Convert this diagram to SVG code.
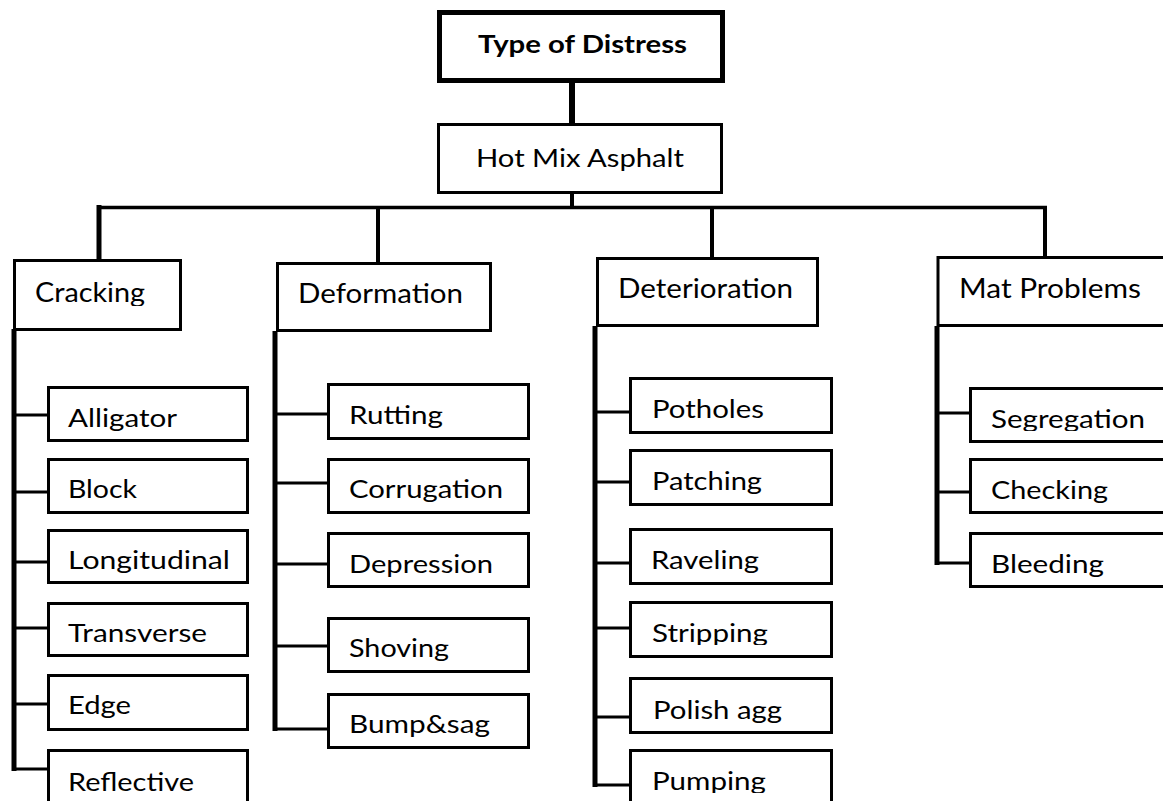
<svg xmlns="http://www.w3.org/2000/svg" width="1163" height="801" viewBox="0 0 1163 801">
<style>
.box{fill:#fff;stroke:#000;stroke-width:3}
.thick{fill:#fff;stroke:#000;stroke-width:5}
.c{stroke:#000;fill:none;stroke-linecap:butt}
.t{font-family:Lato,"Open Sans",sans-serif;font-size:25px;fill:#000}
.k{font-size:26px}
.b{font-weight:bold;font-size:24px}
</style>
<defs>
<clipPath id="c57"><rect x="0" y="0" width="1163" height="57"/></clipPath>
<clipPath id="c171"><rect x="0" y="0" width="1163" height="171"/></clipPath>
<clipPath id="c306"><rect x="0" y="0" width="1163" height="306"/></clipPath>
<clipPath id="c431"><rect x="0" y="0" width="1163" height="431"/></clipPath>
<clipPath id="c428"><rect x="0" y="0" width="1163" height="428"/></clipPath>
<clipPath id="c494"><rect x="0" y="0" width="1163" height="494"/></clipPath>
<clipPath id="c502"><rect x="0" y="0" width="1163" height="502"/></clipPath>
<clipPath id="c503"><rect x="0" y="0" width="1163" height="503"/></clipPath>
<clipPath id="c573"><rect x="0" y="0" width="1163" height="573"/></clipPath>
<clipPath id="c577"><rect x="0" y="0" width="1163" height="577"/></clipPath>
<clipPath id="c645"><rect x="0" y="0" width="1163" height="645"/></clipPath>
<clipPath id="c661"><rect x="0" y="0" width="1163" height="661"/></clipPath>
<clipPath id="c718"><rect x="0" y="0" width="1163" height="718"/></clipPath>
<clipPath id="c723"><rect x="0" y="0" width="1163" height="723"/></clipPath>
<clipPath id="c738"><rect x="0" y="0" width="1163" height="738"/></clipPath>
<clipPath id="c793"><rect x="0" y="0" width="1163" height="793"/></clipPath>
</defs>

<g id="connectors">
<line class="c" x1="572" y1="82" x2="572" y2="124" stroke-width="6"/>
<line class="c" x1="572" y1="193" x2="572" y2="208" stroke-width="4"/>
<line class="c" x1="97" y1="207.5" x2="1047" y2="207.5" stroke-width="3.5"/>
<line class="c" x1="99" y1="205" x2="99" y2="260" stroke-width="5"/>
<line class="c" x1="378" y1="206" x2="378" y2="263" stroke-width="4"/>
<line class="c" x1="712" y1="206" x2="712" y2="258" stroke-width="4"/>
<line class="c" x1="1045" y1="206" x2="1045" y2="258" stroke-width="4"/>
<!-- Cracking -->
<path class="c" d="M14 329 V771" stroke-width="5"/>
<path class="c" stroke-width="3" d="M14 415 H48 M14 492 H48 M14 562 H48 M14 628 H48 M14 704 H48 M14 769 H48"/>
<!-- Deformation -->
<path class="c" d="M275 331 V731" stroke-width="5"/>
<path class="c" stroke-width="3" d="M275 414 H328 M275 483 H328 M275 564 H328 M275 646 H328 M275 729 H328"/>
<!-- Deterioration -->
<path class="c" d="M595 326 V787" stroke-width="5"/>
<path class="c" stroke-width="3" d="M595 412 H630 M595 482 H630 M595 563 H630 M595 628 H630 M595 717 H630 M595 785 H630"/>
<!-- Mat Problems -->
<path class="c" d="M937 326 V565" stroke-width="5"/>
<path class="c" stroke-width="3" d="M937 413 H970 M937 492 H970 M937 563 H970"/>
</g>

<g id="n-type"><rect class="thick" x="439.5" y="12.5" width="283" height="68"/><text class="t b" x="478" y="53" textLength="209" lengthAdjust="spacingAndGlyphs" clip-path="url(#c57)">Type of Distress</text></g>
<g id="n-hma"><rect class="box" x="438.5" y="124.5" width="283" height="68"/><text class="t" x="476" y="167" textLength="208" lengthAdjust="spacingAndGlyphs" clip-path="url(#c171)">Hot Mix Asphalt</text></g>

<g id="n-cracking"><rect class="box" x="14.5" y="260.5" width="166" height="69"/><text class="t k" x="35" y="302" textLength="110" lengthAdjust="spacingAndGlyphs" clip-path="url(#c306)">Cracking</text></g>
<g id="n-deformation"><rect class="box" x="277.5" y="263.5" width="213" height="67"/><text class="t k" x="298" y="303" textLength="165" lengthAdjust="spacingAndGlyphs">Deformation</text></g>
<g id="n-deterioration"><rect class="box" x="597.5" y="258.5" width="220" height="67"/><text class="t k" x="618" y="298" textLength="175" lengthAdjust="spacingAndGlyphs">Deterioration</text></g>
<g id="n-mat"><rect class="box" x="938" y="257.5" width="240" height="68"/><text class="t k" x="959" y="298" textLength="182" lengthAdjust="spacingAndGlyphs">Mat Problems</text></g>

<g id="n-alligator"><rect class="box" x="48.5" y="387.5" width="199" height="53"/><text class="t" x="68" y="427" textLength="109" lengthAdjust="spacingAndGlyphs" clip-path="url(#c431)">Alligator</text></g>
<g id="n-block"><rect class="box" x="48.5" y="459.5" width="199" height="53"/><text class="t" x="68" y="498" textLength="69" lengthAdjust="spacingAndGlyphs">Block</text></g>
<g id="n-longitudinal"><rect class="box" x="48.5" y="530.5" width="199" height="52"/><text class="t" x="68" y="569" textLength="162" lengthAdjust="spacingAndGlyphs" clip-path="url(#c573)">Longitudinal</text></g>
<g id="n-transverse"><rect class="box" x="48.5" y="603.5" width="199" height="52"/><text class="t" x="68" y="642" textLength="139" lengthAdjust="spacingAndGlyphs">Transverse</text></g>
<g id="n-edge"><rect class="box" x="48.5" y="675.5" width="199" height="54"/><text class="t" x="68" y="714" textLength="63" lengthAdjust="spacingAndGlyphs" clip-path="url(#c718)">Edge</text></g>
<g id="n-reflective"><rect class="box" x="48.5" y="750.5" width="199" height="80"/><text class="t" x="68" y="791" textLength="126" lengthAdjust="spacingAndGlyphs">Reflective</text></g>

<g id="n-rutting"><rect class="box" x="328.5" y="384.5" width="200" height="54"/><text class="t" x="349" y="424" textLength="94" lengthAdjust="spacingAndGlyphs" clip-path="url(#c428)">Rutting</text></g>
<g id="n-corrugation"><rect class="box" x="328.5" y="459.5" width="200" height="53"/><text class="t" x="349" y="498" textLength="154" lengthAdjust="spacingAndGlyphs" clip-path="url(#c502)">Corrugation</text></g>
<g id="n-depression"><rect class="box" x="328.5" y="533.5" width="200" height="53"/><text class="t" x="349" y="573" textLength="144" lengthAdjust="spacingAndGlyphs" clip-path="url(#c577)">Depression</text></g>
<g id="n-shoving"><rect class="box" x="328.5" y="618.5" width="200" height="53"/><text class="t" x="349" y="657" textLength="100" lengthAdjust="spacingAndGlyphs" clip-path="url(#c661)">Shoving</text></g>
<g id="n-bumpsag"><rect class="box" x="328.5" y="694.5" width="200" height="53"/><text class="t" x="349" y="733" textLength="141" lengthAdjust="spacingAndGlyphs" clip-path="url(#c738)">Bump&amp;sag</text></g>

<g id="n-potholes"><rect class="box" x="630.5" y="378.5" width="201" height="54"/><text class="t" x="652" y="418" textLength="112" lengthAdjust="spacingAndGlyphs">Potholes</text></g>
<g id="n-patching"><rect class="box" x="630.5" y="450.5" width="201" height="54"/><text class="t" x="652" y="490" textLength="110" lengthAdjust="spacingAndGlyphs" clip-path="url(#c494)">Patching</text></g>
<g id="n-raveling"><rect class="box" x="630.5" y="529.5" width="201" height="54"/><text class="t" x="651" y="569" textLength="108" lengthAdjust="spacingAndGlyphs" clip-path="url(#c573)">Raveling</text></g>
<g id="n-stripping"><rect class="box" x="630.5" y="602.5" width="201" height="54"/><text class="t" x="652" y="642" textLength="116" lengthAdjust="spacingAndGlyphs" clip-path="url(#c645)">Stripping</text></g>
<g id="n-polish"><rect class="box" x="630.5" y="678.5" width="201" height="54"/><text class="t" x="653" y="719" textLength="129" lengthAdjust="spacingAndGlyphs" clip-path="url(#c723)">Polish agg</text></g>
<g id="n-pumping"><rect class="box" x="630.5" y="750.5" width="201" height="80"/><text class="t" x="652" y="790" textLength="114" lengthAdjust="spacingAndGlyphs" clip-path="url(#c793)">Pumping</text></g>

<g id="n-segregation"><rect class="box" x="970.5" y="388.5" width="220" height="53"/><text class="t" x="991" y="428" textLength="154" lengthAdjust="spacingAndGlyphs" clip-path="url(#c431)">Segregation</text></g>
<g id="n-checking"><rect class="box" x="970.5" y="459.5" width="220" height="53"/><text class="t" x="991" y="499" textLength="117" lengthAdjust="spacingAndGlyphs" clip-path="url(#c503)">Checking</text></g>
<g id="n-bleeding"><rect class="box" x="970.5" y="533.5" width="220" height="53"/><text class="t" x="991" y="573" textLength="113" lengthAdjust="spacingAndGlyphs" clip-path="url(#c577)">Bleeding</text></g>
</svg>
